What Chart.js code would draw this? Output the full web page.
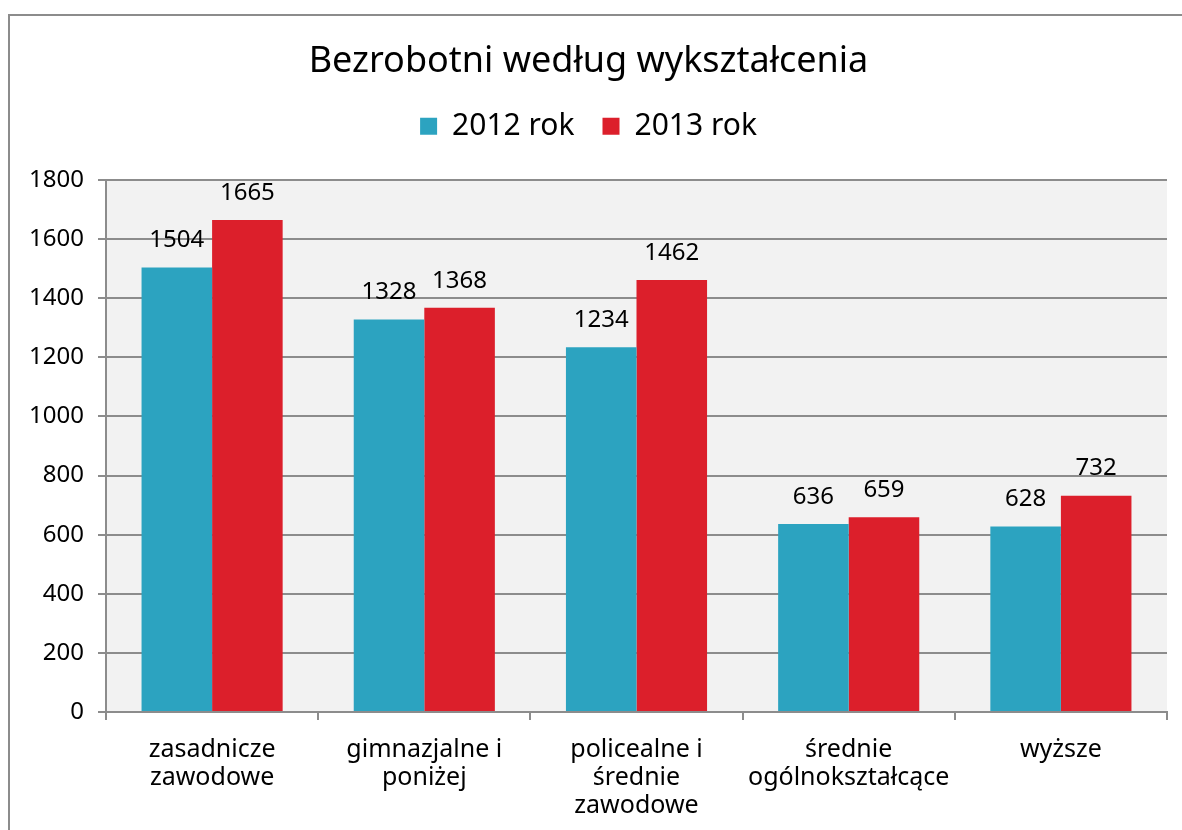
<!DOCTYPE html>
<html>
<head>
<meta charset="utf-8">
<script src="https://cdn.jsdelivr.net/npm/chart.js@4.4.1/dist/chart.umd.min.js"></script>
<style>
  html, body { margin: 0; padding: 0; background: #fff; }
  #wrap { width: 1182px; height: 830px; }
</style>
</head>
<body>
<div id="wrap"><canvas id="wykres" width="1182" height="830"></canvas></div>
<script>
const kategorie = [
    ['zasadnicze', 'zawodowe'],
    ['gimnazjalne i', 'poniżej'],
    ['policealne i', 'średnie', 'zawodowe'],
    ['średnie', 'ogólnokształcące'],
    ['wyższe']
];
const rok2012 = [1504, 1328, 1234, 636, 628];
const rok2013 = [1665, 1368, 1462, 659, 732];
const tickiY = [0, 200, 400, 600, 800, 1000, 1200, 1400, 1600, 1800];

const czcionka = "'Noto Sans', sans-serif";

// tlo obszaru wykresu i ramka
const tlo = {
    id: 'tlo',
    beforeDraw(chart) {
        const c = chart.ctx;
        const a = chart.chartArea;
        c.save();
        c.fillStyle = '#f2f2f2';
        c.fillRect(a.left, a.top, a.right - a.left, a.bottom - a.top);
        c.strokeStyle = '#8c8c8c';
        c.lineWidth = 2;
        c.strokeRect(9, 15, 1300, 1000);
        c.restore();
    }
};

// legenda troche wyzsza, zeby obszar wykresu zaczynal sie nizej
const odstep = {
    id: 'odstep',
    beforeInit(chart) {
        const lg = chart.legend;
        if (!lg) return;
        const fit = lg.fit;
        lg.fit = function () {
            fit.call(this);
            this.height = 96.8;
        };
    }
};

// wartosci nad slupkami
const etykiety = {
    id: 'etykiety',
    afterDatasetsDraw(chart) {
        const c = chart.ctx;
        c.save();
        c.font = "24px " + czcionka;
        c.fillStyle = '#000';
        c.textAlign = 'center';
        c.textBaseline = 'bottom';
        chart.data.datasets.forEach((ds, i) => {
            chart.getDatasetMeta(i).data.forEach((bar, j) => {
                c.fillText(ds.data[j], bar.x, bar.y - 15);
            });
        });
        c.restore();
    }
};

new Chart(document.getElementById('wykres'), {
    type: 'bar',
    data: {
        labels: kategorie,
        datasets: [{
            label: '2012 rok',
            data: rok2012,
            backgroundColor: '#2ca3c0',
            categoryPercentage: 0.665,
            barPercentage: 1
        }, {
            label: '2013 rok',
            data: rok2013,
            backgroundColor: '#dc1f2b',
            categoryPercentage: 0.665,
            barPercentage: 1
        }]
    },
    options: {
        responsive: false,
        animation: false,
        layout: { padding: { left: 10, right: 15, top: 30, bottom: 0 } },
        plugins: {
            title: {
                display: true,
                text: 'Bezrobotni według wykształcenia',
                color: '#000',
                font: { family: czcionka, size: 36, weight: 'normal' },
                padding: { top: 10, bottom: 0 }
            },
            legend: {
                labels: {
                    color: '#000',
                    font: { family: czcionka, size: 30 },
                    boxWidth: 17,
                    boxHeight: 17,
                    padding: 28
                }
            },
            tooltip: { enabled: false }
        },
        scales: {
            y: {
                min: 0,
                max: 1800,
                afterBuildTicks(scale) {
                    scale.ticks = tickiY.map(v => ({ value: v }));
                },
                afterFit(scale) { scale.width = 96; },
                ticks: {
                    color: '#000',
                    font: { family: czcionka, size: 24 },
                    padding: 14,
                    callback: v => String(v)
                },
                grid: { color: '#8c8c8c', lineWidth: 2, tickLength: 8 },
                border: { color: '#8c8c8c', width: 2 }
            },
            x: {
                afterFit(scale) { scale.height = 118; },
                ticks: { color: '#000', font: { family: czcionka, size: 25, lineHeight: 1.12 }, padding: 16 },
                grid: { drawOnChartArea: false, offset: true, color: '#8c8c8c', lineWidth: 2, tickLength: 8 },
                border: { color: '#8c8c8c', width: 2 }
            }
        }
    },
    plugins: [tlo, odstep, etykiety]
});
</script>
</body>
</html>
